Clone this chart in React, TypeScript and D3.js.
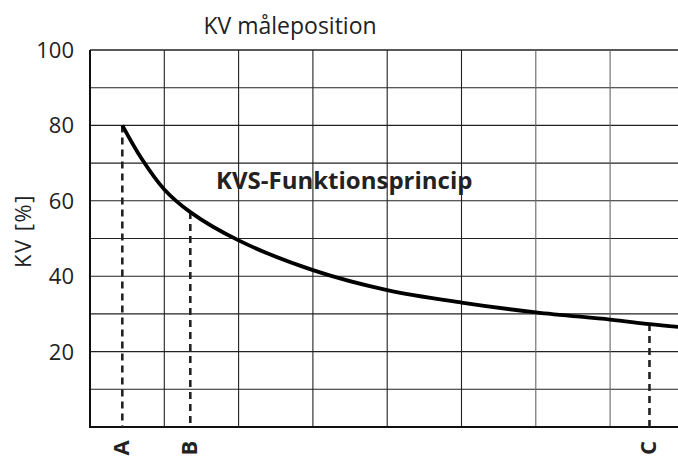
import * as d3 from "d3";

// grid columns (x in cell units) and KV values
const curveX = [0.435, 0.7, 1.0, 1.35, 2, 3, 4, 5, 6, 7, 7.53, 7.95];
const curveKV = [80, 71, 63, 57, 49.5, 41.6, 36.3, 33, 30.4, 28.5, 27.3, 26.5];

const markers = ["A", "B", "C"];
const markerX = [0.435, 1.35, 7.53];
const markerKV = [80, 57, 27.3];

const yTicks = [20, 40, 60, 80, 100];
const yGrid = [0, 10, 20, 30, 40, 50, 60, 70, 80, 90, 100];
const xGrid = [0, 1, 2, 3, 4, 5, 6, 7, 8];

const width = 678;
const height = 457;
const font = "'Open Sans', 'Noto Sans', sans-serif";

export default function App() {
  let x = d3.scaleLinear().domain([0, 8]).range([90, 684.4]);
  let y = d3.scaleLinear().domain([0, 100]).range([427, 50]);

  let line = d3
    .line<number>()
    .x((_, i) => x(curveX[i]))
    .y((d) => y(d))
    .curve(d3.curveCatmullRom.alpha(0.5));

  return (
    <svg
      width={width}
      height={height}
      style={{ position: "absolute", left: 0, top: 0, background: "white" }}
      fontFamily={font}
    >
      {/* grid */}
      {yGrid.map((v) => (
        <line
          key={"h" + v}
          x1={x(0)}
          x2={width}
          y1={y(v)}
          y2={y(v)}
          stroke="#222"
          strokeWidth={v === 100 ? 1.6 : 1.1}
        />
      ))}
      {xGrid.map((v) => (
        <line
          key={"v" + v}
          x1={x(v)}
          x2={x(v)}
          y1={y(0)}
          y2={y(100)}
          stroke={v >= 6 ? "#666" : "#222"}
          strokeWidth={1.1}
        />
      ))}
      {/* axes */}
      <line x1={x(0)} x2={x(0)} y1={y(0) + 1} y2={y(100)} stroke="#111" strokeWidth={2} />
      <line x1={x(0)} x2={width} y1={y(0)} y2={y(0)} stroke="#111" strokeWidth={2} />

      {/* dashed markers */}
      {markers.map((m, i) => (
        <g key={m}>
          <line
            x1={x(markerX[i])}
            x2={x(markerX[i])}
            y1={y(markerKV[i])}
            y2={y(0)}
            stroke="#222"
            strokeWidth={2.6}
            strokeDasharray="7,5"
          />
          <text
            transform={`translate(${x(markerX[i]) + 7},448) rotate(-90)`}
            textAnchor="middle"
            fontSize={22}
            fontWeight="bold"
            fill="#222"
          >
            {m}
          </text>
        </g>
      ))}

      {/* curve */}
      <path d={line(curveKV) ?? ""} fill="none" stroke="#000" strokeWidth={3.8} />

      {/* y ticks */}
      {yTicks.map((t) => (
        <text
          key={t}
          x={74}
          y={y(t) + 8}
          textAnchor="end"
          fontSize={22}
          fill="#222"
        >
          {t}
        </text>
      ))}

      <text x={290} y={34} textAnchor="middle" fontSize={23} fill="#222">
        KV måleposition
      </text>
      <text
        transform="translate(31,231) rotate(-90)"
        textAnchor="middle"
        fontSize={22}
        letterSpacing={1.5}
        fill="#222"
      >
        KV [%]
      </text>
      <text x={216} y={189} fontSize={24} fontWeight="bold" fill="#222">
        KVS-Funktionsprincip
      </text>
    </svg>
  );
}
